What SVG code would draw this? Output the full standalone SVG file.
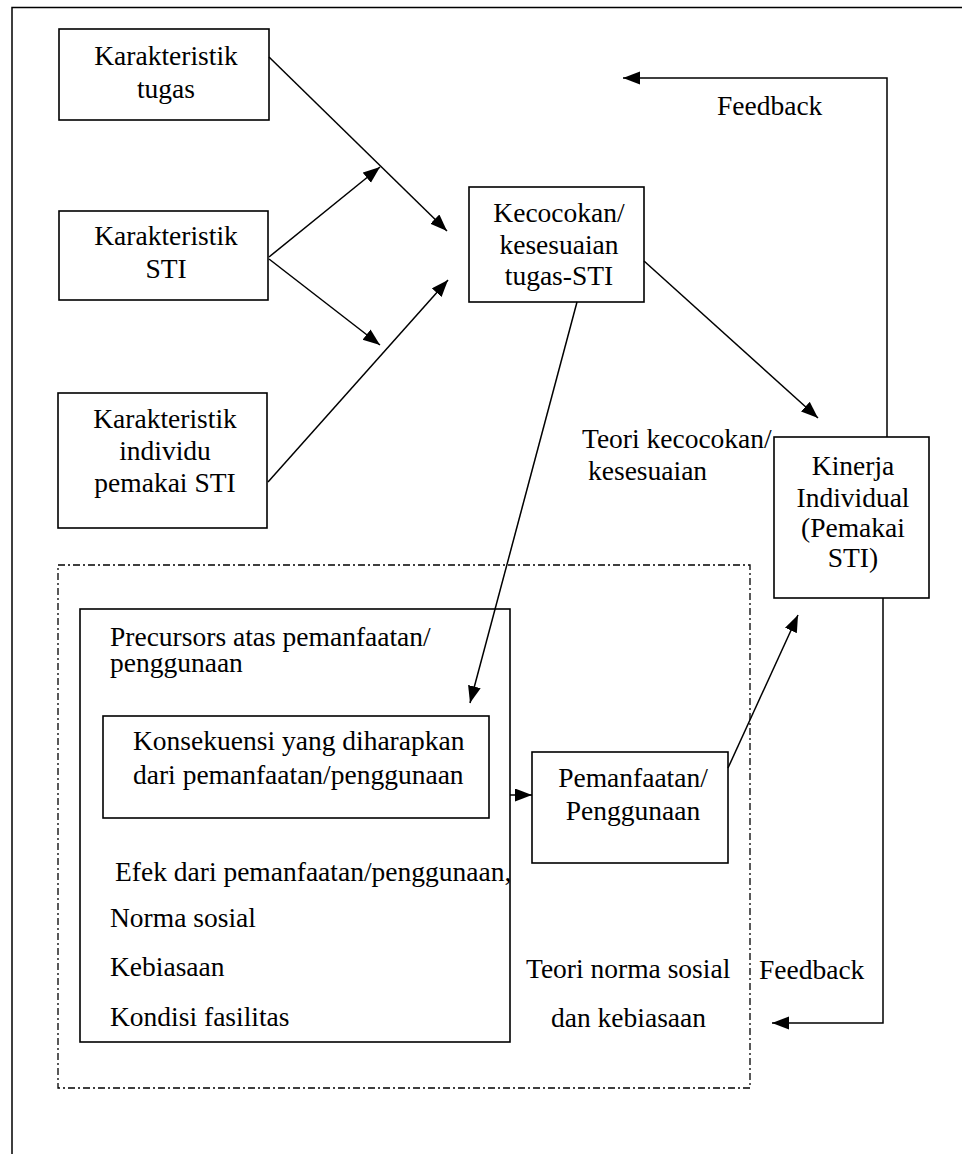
<svg xmlns="http://www.w3.org/2000/svg" width="962" height="1154" viewBox="0 0 962 1154">
<style>
text{font-family:"Liberation Serif","Times New Roman",serif;font-size:27.5px;fill:#000}
.c{text-anchor:middle}
.box{fill:#fff;stroke:#000;stroke-width:1.6}
.ln{fill:none;stroke:#000;stroke-width:1.5}
.dd{fill:none;stroke:#000;stroke-width:1.3;stroke-dasharray:7 3 2 3}
</style>
<defs>
<marker id="ah" markerUnits="userSpaceOnUse" markerWidth="18" markerHeight="14" refX="17" refY="6.5" orient="auto">
<path d="M0,0 L17,6.5 L0,13 z" fill="#000"/>
</marker>
</defs>
<rect width="962" height="1154" fill="#fff"/>
<g id="frame">
<path class="ln" d="M12,1154 V7.5 H962" stroke-width="1.8"/>
</g>
<g id="theory-box">
<rect class="dd" x="58" y="565" width="692" height="523"/>
</g>
<g id="karakteristik-tugas">
<rect class="box" x="59" y="29" width="210" height="91"/>
<text class="c" x="166" y="65">Karakteristik</text>
<text class="c" x="166" y="98">tugas</text>
</g>
<g id="karakteristik-sti">
<rect class="box" x="59" y="211" width="209" height="89"/>
<text class="c" x="166" y="245">Karakteristik</text>
<text class="c" x="166" y="278">STI</text>
</g>
<g id="karakteristik-individu">
<rect class="box" x="58" y="393" width="209" height="135"/>
<text class="c" x="165" y="428">Karakteristik</text>
<text class="c" x="165" y="460">individu</text>
<text class="c" x="165" y="492">pemakai STI</text>
</g>
<g id="kecocokan">
<rect class="box" x="469" y="187" width="175" height="115"/>
<text class="c" x="559" y="222">Kecocokan/</text>
<text class="c" x="559" y="254">kesesuaian</text>
<text class="c" x="559" y="285">tugas-STI</text>
</g>
<g id="teori-kecocokan">
<text x="582" y="448">Teori kecocokan/</text>
<text x="588" y="480">kesesuaian</text>
</g>
<g id="kinerja">
<rect class="box" x="774" y="437" width="155" height="161"/>
<text class="c" x="853" y="475">Kinerja</text>
<text class="c" x="853" y="507">Individual</text>
<text class="c" x="853" y="537">(Pemakai</text>
<text class="c" x="853" y="567">STI)</text>
</g>
<g id="feedback-top">
<text x="717" y="115">Feedback</text>
</g>
<g id="precursors">
<rect class="box" x="80" y="609" width="430" height="433"/>
<text x="110" y="646">Precursors atas pemanfaatan/</text>
<text x="110" y="672">penggunaan</text>
<text x="115" y="881">Efek dari pemanfaatan/penggunaan,</text>
<text x="110" y="927">Norma sosial</text>
<text x="110" y="976">Kebiasaan</text>
<text x="110" y="1026">Kondisi fasilitas</text>
</g>
<g id="konsekuensi">
<rect class="box" x="103" y="716" width="386" height="102"/>
<text x="133" y="750">Konsekuensi yang diharapkan</text>
<text x="133" y="784">dari pemanfaatan/penggunaan</text>
</g>
<g id="pemanfaatan">
<rect class="box" x="532" y="752" width="196" height="111"/>
<text class="c" x="633" y="787">Pemanfaatan/</text>
<text class="c" x="633" y="820">Penggunaan</text>
</g>
<g id="teori-norma">
<text x="526" y="978">Teori norma sosial</text>
<text x="551" y="1027">dan kebiasaan</text>
</g>
<g id="feedback-bottom">
<text x="759" y="979">Feedback</text>
</g>
<g id="connectors">
<line class="ln" x1="269" y1="57" x2="447" y2="231" marker-end="url(#ah)"/>
<line class="ln" x1="269" y1="257" x2="380" y2="167" marker-end="url(#ah)"/>
<line class="ln" x1="269" y1="259" x2="380" y2="345" marker-end="url(#ah)"/>
<line class="ln" x1="268" y1="482" x2="448" y2="280" marker-end="url(#ah)"/>
<line class="ln" x1="644" y1="261" x2="818" y2="418" marker-end="url(#ah)"/>
<line class="ln" x1="577" y1="302" x2="470" y2="703" marker-end="url(#ah)"/>
<line class="ln" x1="510" y1="795" x2="532" y2="795" marker-end="url(#ah)"/>
<line class="ln" x1="728" y1="768" x2="798" y2="615" marker-end="url(#ah)"/>
<path class="ln" d="M887,437 V78 H623" marker-end="url(#ah)"/>
<path class="ln" d="M883,598 V1023 H772" marker-end="url(#ah)"/>
</g>
</svg>
